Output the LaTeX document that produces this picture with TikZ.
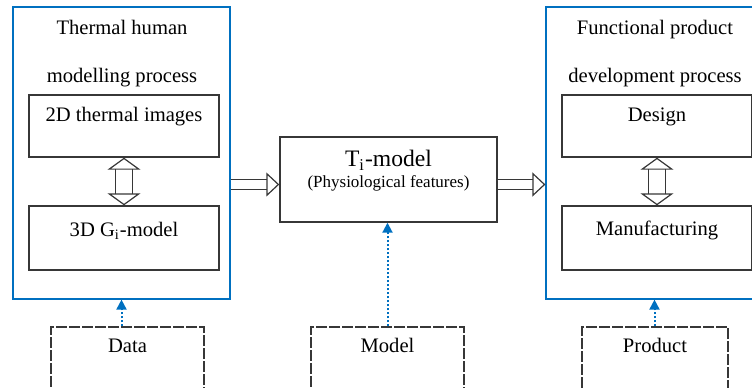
\documentclass[tikz,border=0pt]{standalone}
\usepackage{fontspec}
\setmainfont{Liberation Serif}
\usetikzlibrary{arrows.meta}
\definecolor{frameblue}{RGB}{0,112,192}
\definecolor{boxgray}{RGB}{55,55,55}

\tikzset{
  process/.style={draw=frameblue, line width=0.6pt, minimum width=108.5pt, minimum height=146pt, inner sep=0pt},
  heading/.style={align=center, font=\fontsize{10.3}{24}\selectfont},
  stage/.style={draw=boxgray, line width=0.7pt, minimum width=95pt, inner sep=0pt, text height=13pt, text depth=18pt, font=\fontsize{10.3}{12}\selectfont},
  source/.style={draw=boxgray, line width=0.6pt, dash pattern=on 5.5pt off 1pt, minimum width=76.5pt, inner sep=0pt, text height=12.5pt, text depth=37.5pt, font=\fontsize{10.3}{12}\selectfont},
  hollow/.style={draw=boxgray, line width=0.6pt, double=white, double distance=4.6pt, -{Triangle[open, length=6.5pt, width=12pt]}},
  hollowboth/.style={draw=boxgray, line width=0.6pt, double=white, double distance=8pt, {Triangle[open, length=6pt, width=16.5pt]}-{Triangle[open, length=6pt, width=16.5pt]}},
  feed/.style={draw=frameblue, line width=1pt, dash pattern=on 1pt off 1pt, -{Triangle[length=5pt, width=5pt]}},
}

\begin{document}
\begin{tikzpicture}[x=0.5pt, y=-0.5pt]
\useasboundingbox (0,0) rectangle (752,387);
\clip (0,0) rectangle (752,387);

% left block
\node[process] (thermal) at (121.5,153) {};
\node[heading] (thermaltitle) at (122,54) {Thermal human\\modelling process};
\node[stage] (images) at (124,126) {2D thermal images};
\node[stage, text height=15pt, text depth=17pt] (gimodel) at (124,238) {3D G\textsubscript{i}-model};
\draw[hollowboth] (images.south) -- (gimodel.north);

% middle block
\node[draw=boxgray, line width=0.7pt, minimum width=108.5pt, minimum height=42.5pt, inner sep=0pt] (timodel) at (388.5,179.5) {};
\node[align=center] (titext) at (388.5,171) {\fontsize{11.8}{13}\selectfont T\textsubscript{i}-model\\[-1.5pt]\fontsize{8.5}{10}\selectfont(Physiological features)};

% right block
\node[process] (functional) at (654.5,153) {};
\node[heading] (functionaltitle) at (655,54) {Functional product\\development process};
\node[stage] (design) at (657,126) {Design};
\node[stage, text height=14.5pt, text depth=17.5pt] (manufacturing) at (657,238) {Manufacturing};
\draw[hollowboth] (design.south) -- (manufacturing.north);

% flow between blocks
\draw[hollow] (thermal.east |- 0,184.5) -- (timodel.west |- 0,184.5);
\draw[hollow] (timodel.east |- 0,184.5) -- (functional.west |- 0,184.5);

% inputs
\node[source] (data) at (127.5,377) {Data};
\node[source] (model) at (387.5,377) {Model};
\node[source, minimum width=73pt] (product) at (655,377) {Product};
\draw[feed] (thermal.south |- data.north) -- (thermal.south);
\draw[feed] (model.north) -- (model.north |- timodel.south);
\draw[feed] (functional.south |- product.north) -- (functional.south);

\end{tikzpicture}
\end{document}
